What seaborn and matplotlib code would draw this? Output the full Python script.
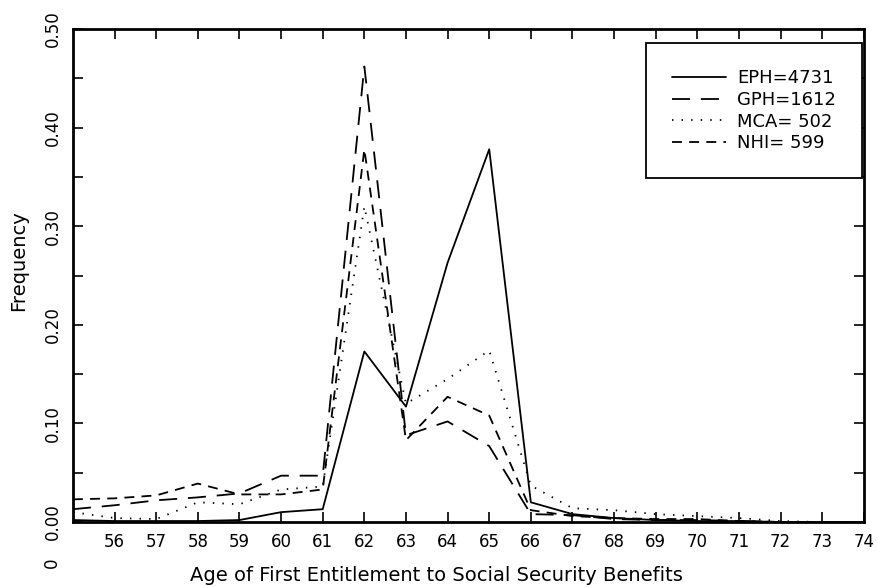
import matplotlib
matplotlib.use("Agg")
import matplotlib.pyplot as plt
from matplotlib.ticker import MultipleLocator, FormatStrFormatter
import pandas as pd
import seaborn as sns

# Values (frequency by age of first entitlement)
ages = list(range(55, 75))
eph = [0.002, 0.001, 0.001, 0.001, 0.002, 0.010, 0.013, 0.173, 0.117, 0.263,
       0.378, 0.020, 0.008, 0.004, 0.002, 0.001, 0.001, 0.000, 0.000, 0.000]
gph = [0.013, 0.017, 0.022, 0.025, 0.029, 0.047, 0.047, 0.462, 0.088, 0.102,
       0.077, 0.008, 0.007, 0.003, 0.002, 0.002, 0.001, 0.000, 0.000, 0.000]
mca = [0.010, 0.004, 0.003, 0.020, 0.018, 0.033, 0.036, 0.320, 0.120, 0.145,
       0.174, 0.037, 0.014, 0.012, 0.008, 0.006, 0.004, 0.001, 0.000, 0.000]
nhi = [0.023, 0.024, 0.027, 0.039, 0.028, 0.028, 0.033, 0.378, 0.083, 0.127,
       0.108, 0.012, 0.006, 0.004, 0.003, 0.003, 0.001, 0.000, 0.000, 0.000]
labels = ["EPH=4731", "GPH=1612", "MCA= 502", "NHI= 599"]

# Long-form table for seaborn
df = pd.concat([
    pd.DataFrame({"age": ages, "freq": vals, "group": lab})
    for lab, vals in zip(labels, [eph, gph, mca, nhi])
])

sns.set_style("ticks")
plt.rcParams["font.family"] = ["DejaVu Sans"]
plt.rcParams["text.color"] = "black"
plt.rcParams["axes.labelcolor"] = "black"
plt.rcParams["xtick.color"] = "black"
plt.rcParams["ytick.color"] = "black"

fig = plt.figure(figsize=(8.77, 5.87), dpi=100)
ax = fig.add_axes([0.0832, 0.1107, 0.9018, 0.8399])

dash_map = {labels[0]: "", labels[1]: (10, 6), labels[2]: (0.8, 4.5), labels[3]: (5.5, 4)}
sns.lineplot(data=df, x="age", y="freq", style="group", dashes=dash_map,
             color="black", linewidth=1.3, markers=False, ax=ax)

ax.set_xlim(55, 74)
ax.set_ylim(0, 0.5)
ax.set_xticks(list(range(56, 75)))
ax.yaxis.set_major_locator(MultipleLocator(0.1))
ax.yaxis.set_minor_locator(MultipleLocator(0.05))
ax.yaxis.set_major_formatter(FormatStrFormatter("%.2f"))
ax.tick_params(axis="both", which="both", direction="in", length=7, width=1.2,
               top=True, right=True, labelsize=12, color="black", labelcolor="black")
ax.tick_params(axis="x", pad=8)
ax.tick_params(axis="y", pad=8)
for lab in ax.get_yticklabels():
    lab.set_rotation(90)
    lab.set_va("center")
for sp in ax.spines.values():
    sp.set_linewidth(2)
    sp.set_color("black")

ax.set_xlabel("Age of First Entitlement to Social Security Benefits", fontsize=14)
ax.xaxis.set_label_coords(0.459, -0.09)
ax.set_ylabel("Frequency", fontsize=14)
ax.yaxis.set_label_coords(-0.057, 0.531)
# stray origin label seen below 0.00
ax.text(-0.027, -0.083, "0", transform=ax.transAxes, rotation=90, fontsize=12,
        ha="center", va="center")

leg = ax.legend(loc="upper right", bbox_to_anchor=(0.9975, 0.971), fontsize=13,
                frameon=True, fancybox=False, edgecolor="black", framealpha=1,
                handlelength=3.0, handletextpad=0.6, labelspacing=0.2,
                borderpad=1.45, borderaxespad=0)
leg.get_frame().set_linewidth(1.3)
for t in leg.get_texts():
    t.set_color("black")

fig.savefig("out.png", dpi=100)
